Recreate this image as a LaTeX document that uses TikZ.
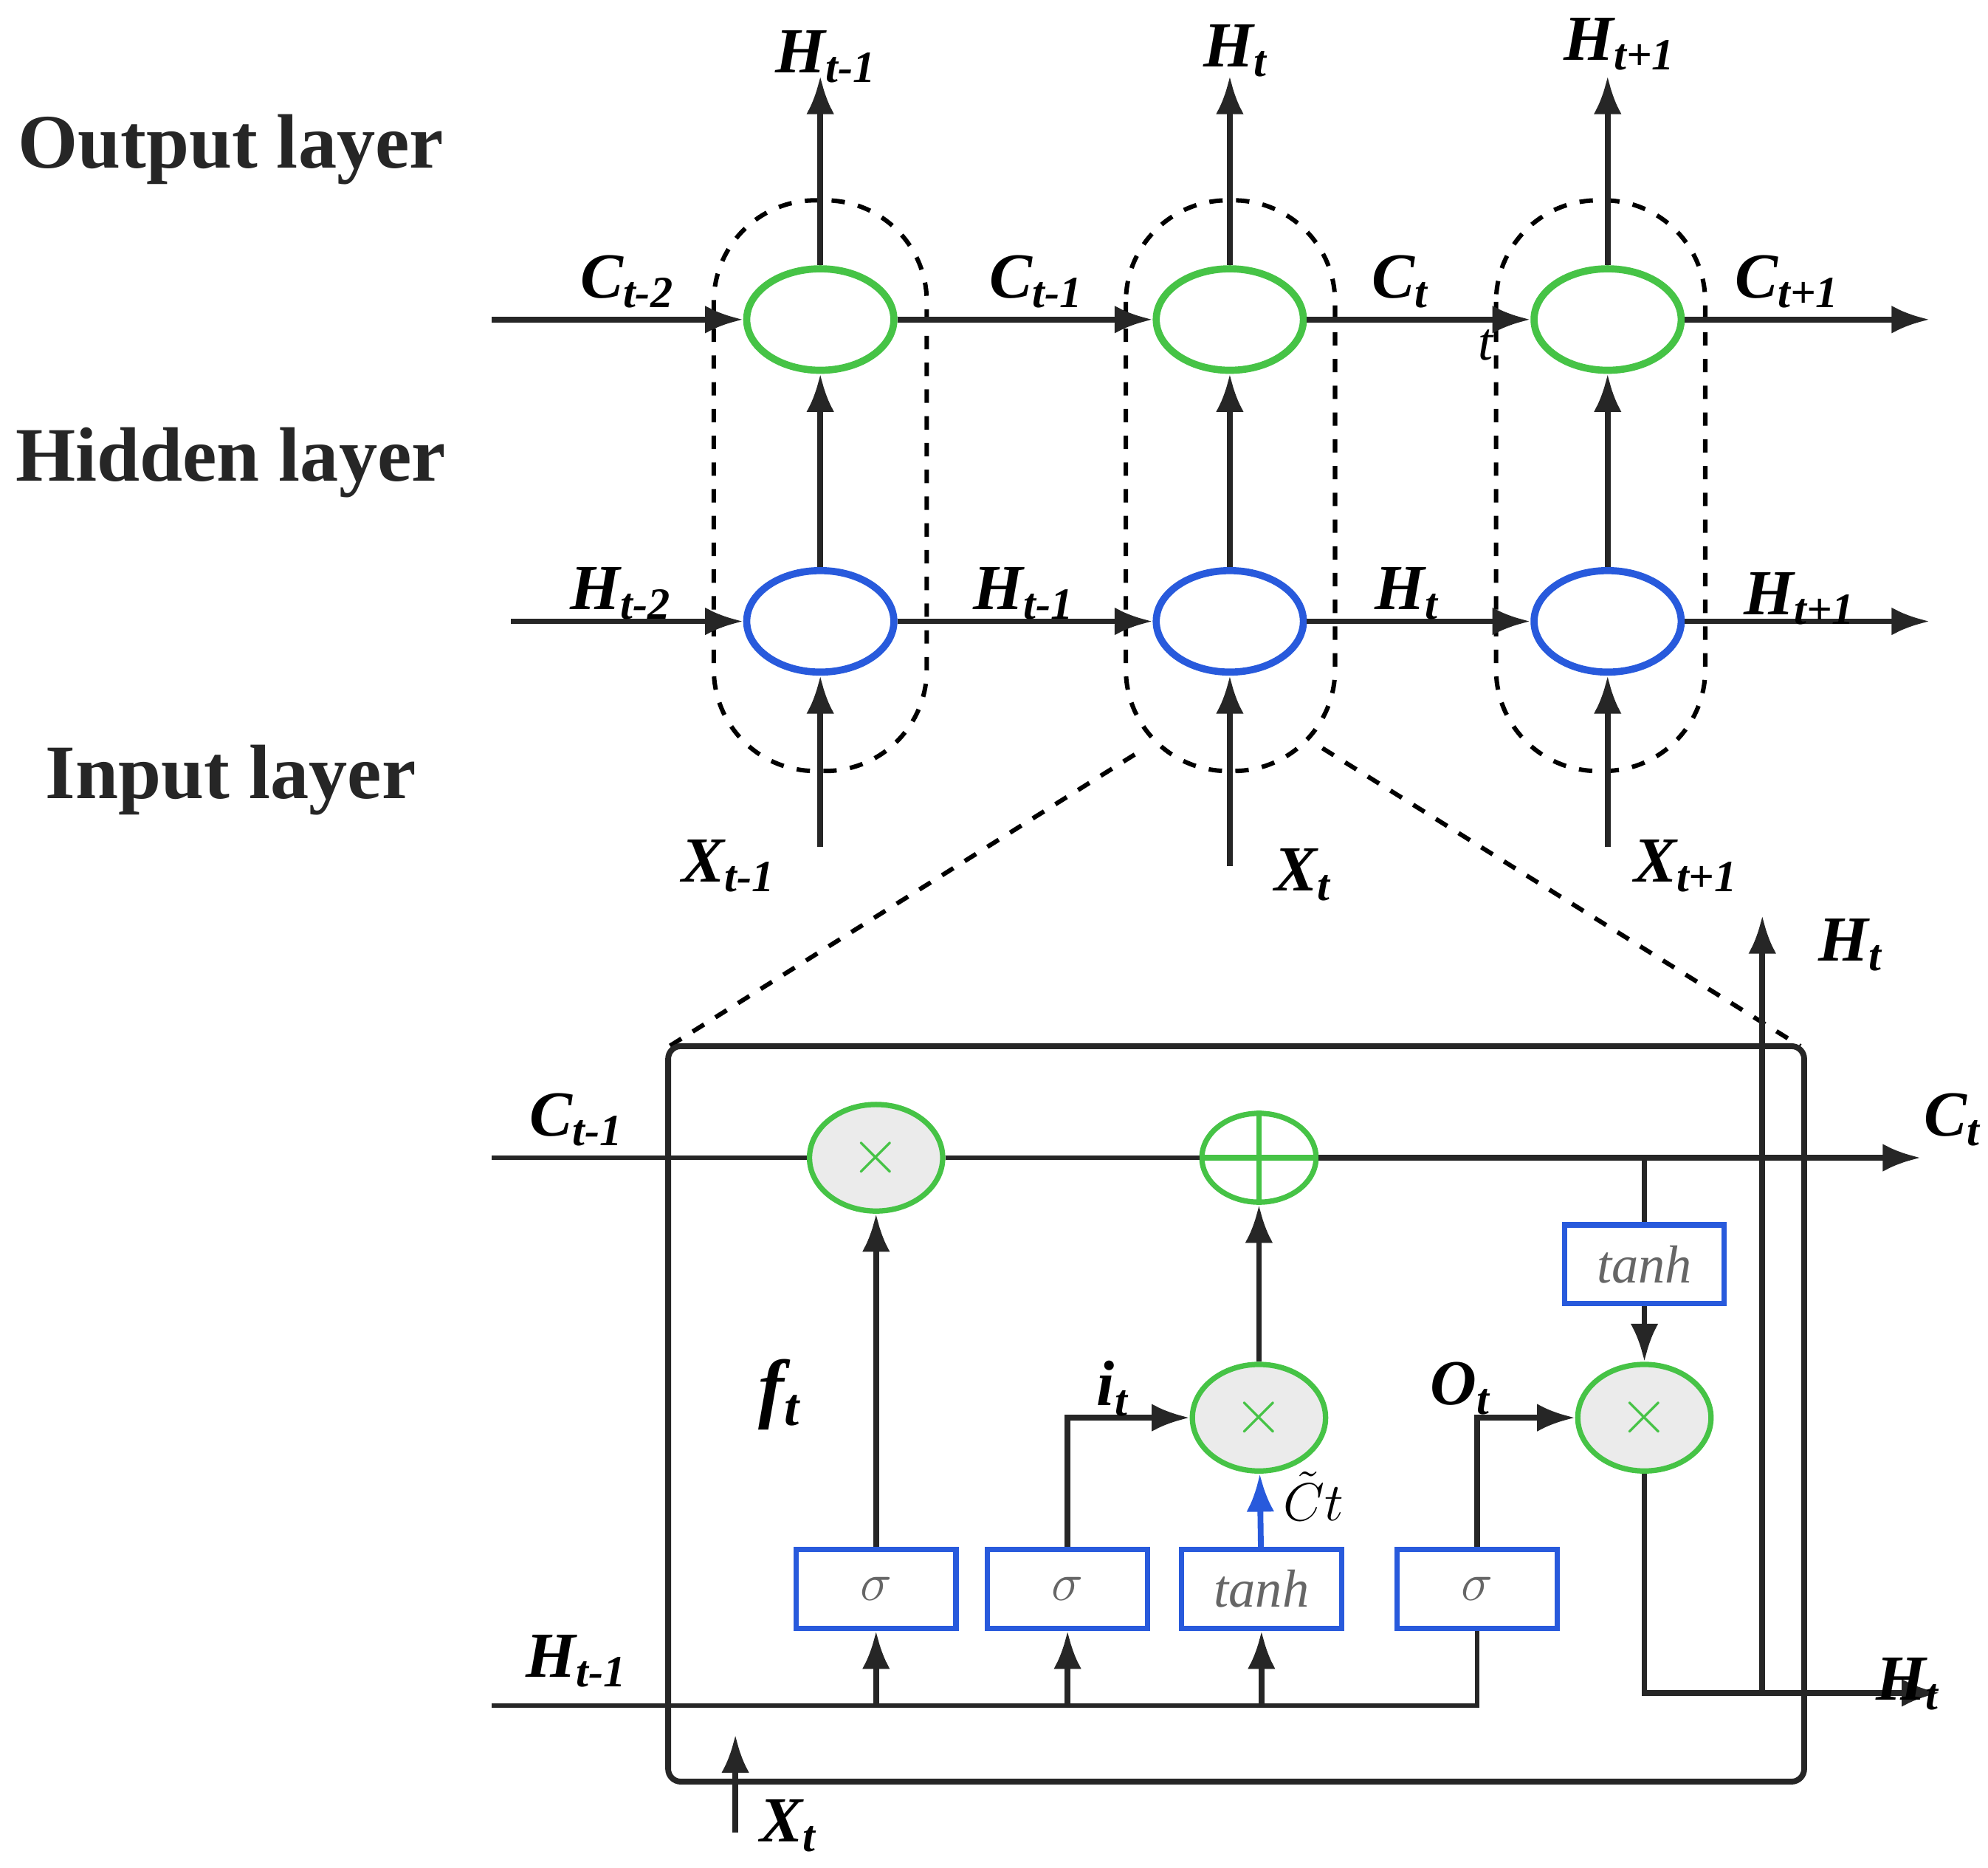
\documentclass[tikz,border=0pt]{standalone}
\usepackage{fontspec}
\setmainfont{Liberation Serif}
\usetikzlibrary{arrows.meta,shapes.geometric}
\definecolor{gr}{RGB}{70,195,70}
\definecolor{bl}{RGB}{40,90,220}
\begin{document}
\begin{tikzpicture}[x=0.01cm,y=-0.01cm,
 ar/.style={-{Latex[length=0.3cm,width=0.22cm]},line width=1.3pt,black!85},
 ln/.style={line width=1.1pt,black!85},
 ge/.style={ellipse,draw=gr,line width=1.6pt,minimum width=1.16cm,minimum height=0.8cm,inner sep=0pt},
 be/.style={ellipse,draw=bl,line width=1.6pt,minimum width=1.16cm,minimum height=0.8cm,inner sep=0pt},
 op/.style={ellipse,draw=gr,fill=black!8,line width=1.2pt,minimum width=1.05cm,minimum height=0.84cm,inner sep=0pt,text=gr,font=\Large},
 bx/.style={draw=bl,line width=1.2pt,minimum width=1.26cm,minimum height=0.62cm,inner sep=0pt,text=black!60,font=\itshape\large},
 lab/.style={font=\bfseries\itshape\Large},
 lay/.style={font=\bfseries\LARGE,text=black!85},
 dsh/.style={dashed,line width=1pt,rounded corners=0.8cm}]
\useasboundingbox (0,0) rectangle (1568,1473);
% layer labels
\node[lay] (L1) at (182,118) {Output layer};
\node[lay] (L2) at (182,365) {Hidden layer};
\node[lay] (L3) at (182,615) {Input layer};
% dashed cells
\draw[dsh] (563,158) rectangle (731,608);
\draw[dsh] (888,158) rectangle (1053,608);
\draw[dsh] (1180,158) rectangle (1345,608);
% nodes
\foreach \n/\x in {a/647,b/970,c/1268}{
 \node[ge] (g\n) at (\x,252) {};
 \node[be] (b\n) at (\x,490) {};
 \draw[ar] (b\n) -- (g\n);
 \coordinate (top\n) at (\x,60);
 \draw[ar] (g\n) -- (top\n);
}
\coordinate (ia) at (647,668); \coordinate (ib) at (970,683); \coordinate (ic) at (1268,668);
\draw[ar] (ia) -- (ba); \draw[ar] (ib) -- (bb); \draw[ar] (ic) -- (bc);
\node[lab] (ht1) at (652,45) {H\textsubscript{t-1}};
\node[lab] (ht) at (975,40) {H\textsubscript{t}};
\node[lab] (ht2) at (1278,35) {H\textsubscript{t+1}};
\node[lab] (xa) at (575,683) {X\textsubscript{t-1}};
\node[lab] (xb) at (1028,690) {X\textsubscript{t}};
\node[lab] (xc) at (1330,683) {X\textsubscript{t+1}};
% C line
\coordinate (cs) at (388,252); \coordinate (ce) at (1522,252);
\draw[ar] (cs) -- (ga); \draw[ar] (ga) -- (gb); \draw[ar] (gb) -- (gc); \draw[ar] (gc) -- (ce);
\node[lab] (c1) at (495,222) {C\textsubscript{t-2}};
\node[lab] (c2) at (818,222) {C\textsubscript{t-1}};
\node[lab] (c3) at (1105,222) {C\textsubscript{t}};
\node[lab] (c4) at (1410,222) {C\textsubscript{t+1}};
\node[font=\itshape\large] (st) at (1172,272) {t};
% H line
\coordinate (hs) at (403,490); \coordinate (he) at (1522,490);
\draw[ar] (hs) -- (ba); \draw[ar] (ba) -- (bb); \draw[ar] (bb) -- (bc); \draw[ar] (bc) -- (he);
\node[lab] (h1) at (490,468) {H\textsubscript{t-2}};
\node[lab] (h2) at (808,468) {H\textsubscript{t-1}};
\node[lab] (h3) at (1110,468) {H\textsubscript{t}};
\node[lab] (h4) at (1420,472) {H\textsubscript{t+1}};
% zoom lines
\coordinate (z1) at (895,595); \coordinate (z2) at (528,825);
\coordinate (z3) at (1043,590); \coordinate (z4) at (1420,825);
\draw[dashed,line width=1pt] (z1) -- (z2); \draw[dashed,line width=1pt] (z3) -- (z4);
% bottom box
\draw[line width=1.3pt,black!85,rounded corners=0.1cm] (527,825) rectangle (1423,1405);
\node[op] (m1) at (691,913) {$\times$};
\node[ellipse,draw=gr,line width=1.2pt,minimum width=0.9cm,minimum height=0.7cm,inner sep=0pt] (pl) at (993,913) {};
\draw[gr,line width=1.2pt] (pl.north) -- (pl.south) (pl.west) -- (pl.east);
\node[op] (m2) at (993,1118) {$\times$};
\node[op] (m3) at (1297,1118) {$\times$};
\node[bx] (s1) at (691,1253) {$\sigma$};
\node[bx] (s2) at (842,1253) {$\sigma$};
\node[bx] (s3) at (995,1253) {tanh};
\node[bx] (s4) at (1165,1253) {$\sigma$};
\node[bx] (s5) at (1297,997) {tanh};
% C line bottom
\coordinate (bcs) at (388,913); \coordinate (bce) at (1515,913);
\draw[ln] (bcs) -- (m1); \draw[ln] (m1) -- (pl); \draw[ar] (pl) -- (bce);
\node[lab] (bc1) at (455,883) {C\textsubscript{t-1}};
\node[lab] (bc2) at (1540,883) {C\textsubscript{t}};
\coordinate (br) at (1297,913);
\draw[ln] (br) -- (s5); \draw[ar] (s5) -- (m3);
% H line bottom
\coordinate (bhs) at (388,1345); \coordinate (bh4) at (1165,1345);
\draw[ln] (bhs) -- (bh4) -- (s4);
\foreach \s/\x in {s1/691,s2/842,s3/995}{\coordinate (u\s) at (\x,1345); \draw[ar] (u\s) -- (\s);}
\node[lab] (bh1) at (455,1310) {H\textsubscript{t-1}};
\coordinate (xs) at (580,1445); \coordinate (xe) at (580,1368);
\draw[ar] (xs) -- (xe);
\node[lab] (bx1) at (622,1440) {X\textsubscript{t}};
% gates
\draw[ar] (s1) -- (m1);
\node[font=\bfseries\itshape\LARGE] (ft) at (615,1100) {f\textsubscript{t}};
\coordinate (i1) at (842,1118);
\draw[ar] (s2) -- (i1) -- (m2);
\node[lab] (it) at (878,1095) {i\textsubscript{t}};
\draw[-{Latex[length=0.3cm,width=0.22cm]},line width=1.3pt,bl] (s3) -- (m2);
\node[font=\itshape\large] (ct) at (1036,1180) {$\tilde{C}t$};
\draw[ar] (m2) -- (pl);
\coordinate (o1) at (1165,1118);
\draw[ar] (s4) -- (o1) -- (m3);
\node[lab] (ot) at (1152,1095) {O\textsubscript{t}};
% output
\coordinate (oc) at (1297,1335); \coordinate (oe) at (1530,1335);
\draw[ar] (m3) -- (oc) -- (oe);
\node[lab] (bh2) at (1505,1328) {H\textsubscript{t}};
\coordinate (v1) at (1390,1335); \coordinate (v2) at (1390,722);
\draw[ar] (v1) -- (v2);
\node[lab] (bh3) at (1460,745) {H\textsubscript{t}};
\end{tikzpicture}
\end{document}
